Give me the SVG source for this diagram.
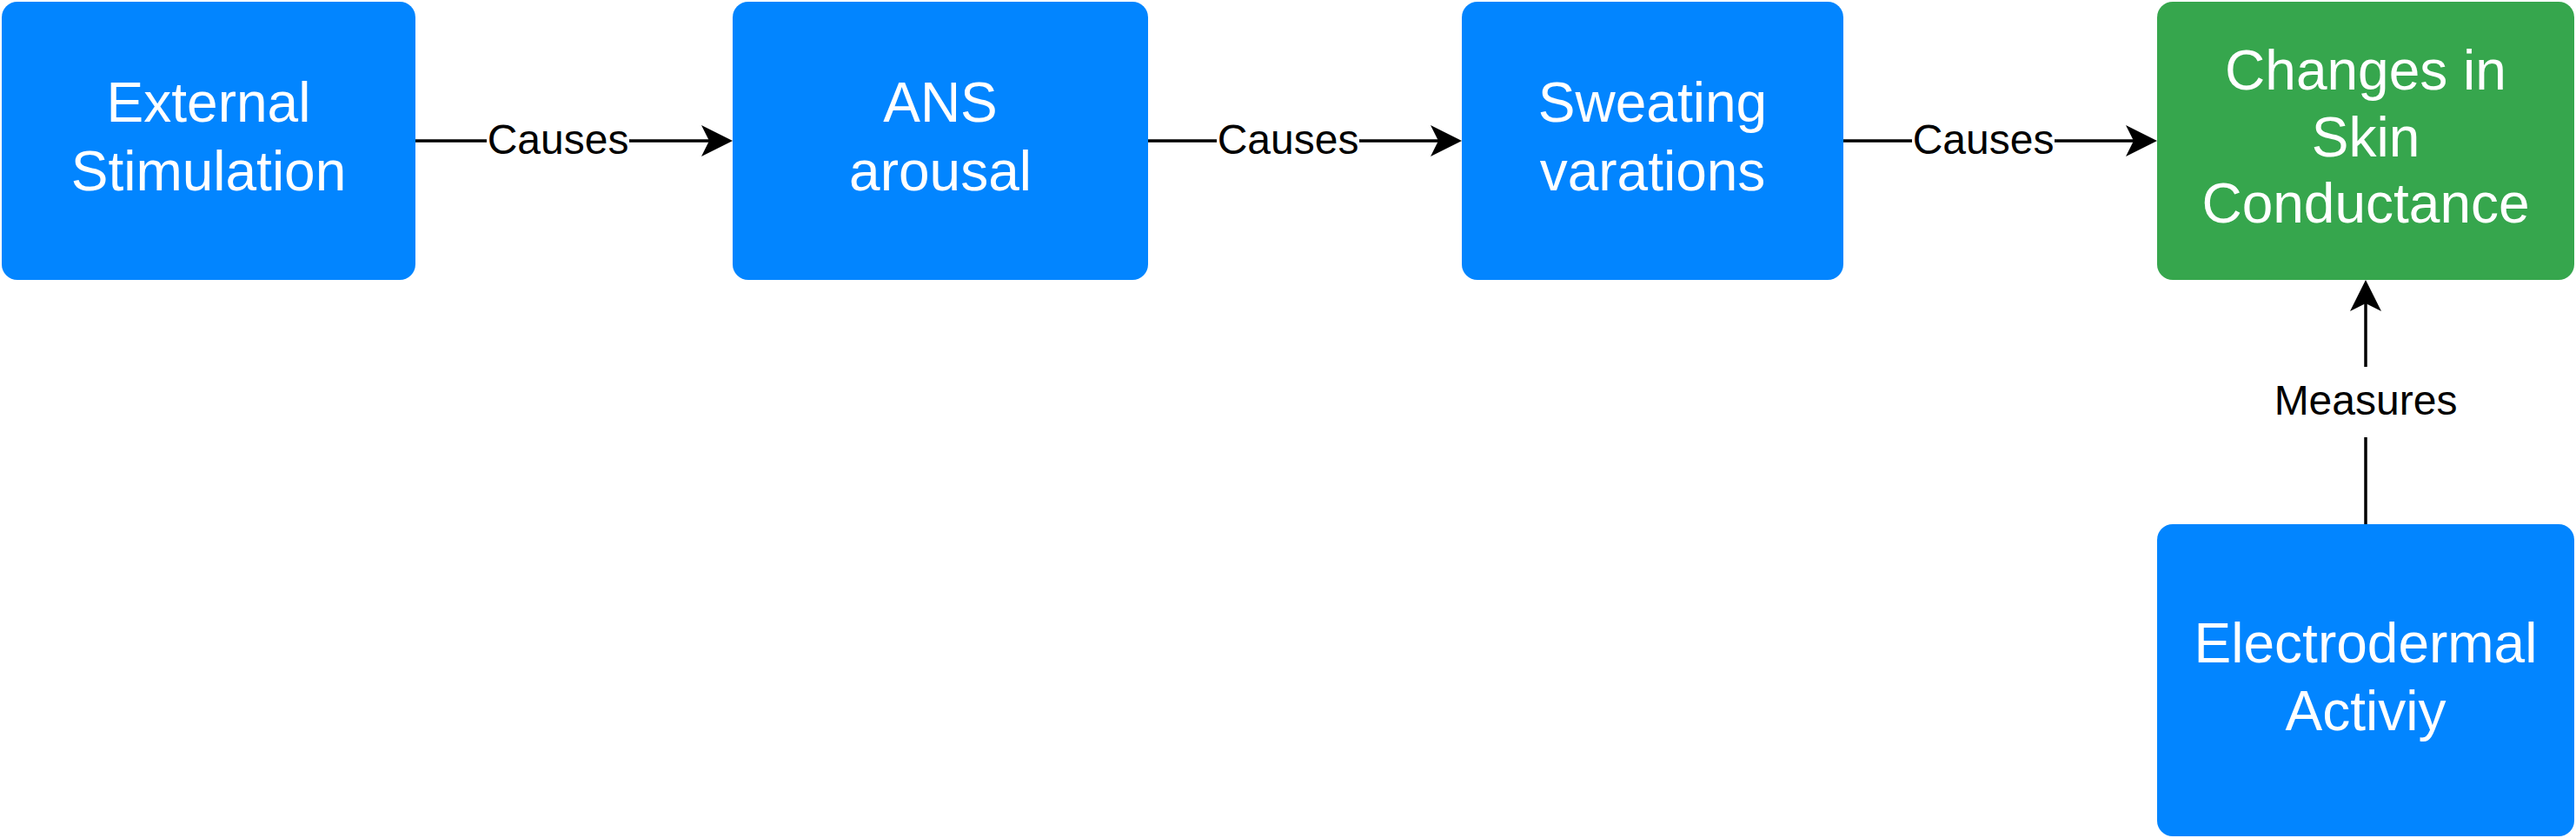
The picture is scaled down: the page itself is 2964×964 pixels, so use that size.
<svg xmlns="http://www.w3.org/2000/svg" width="2964" height="964" viewBox="0 0 2964 964">
  <style>
    .blue { fill: #0285FF; }
    .green { fill: #36A64D; }
    .nt { fill: #FFFFFF; font-family: "Liberation Sans", Arial, Helvetica, sans-serif; font-size: 64px; text-anchor: middle; }
    .edge { stroke: #000000; stroke-width: 3.5; fill: none; marker-end: url(#arrow); }
    .lbl { fill: #000000; font-family: "Liberation Sans", Arial, Helvetica, sans-serif; font-size: 48px; text-anchor: middle; }
    .lblbg { fill: #FFFFFF; }
  </style>
  <defs>
    <marker id="arrow" markerUnits="userSpaceOnUse" markerWidth="36" markerHeight="36" viewBox="0 0 36 36" refX="9" refY="18" orient="auto">
      <path d="M0,0 L36,18 L0,36 L9,18 z" fill="#000000"/>
    </marker>
  </defs>
  <rect width="2964" height="964" fill="#FFFFFF"/>

  <g id="connectors">
    <line class="edge" x1="478" y1="162" x2="816" y2="162"/>
    <rect class="lblbg" x="560" y="140" width="164" height="44"/>
    <text class="lbl" x="642" y="177">Causes</text>

    <line class="edge" x1="1321" y1="162" x2="1655" y2="162"/>
    <rect class="lblbg" x="1400" y="140" width="164" height="44"/>
    <text class="lbl" x="1482" y="177">Causes</text>

    <line class="edge" x1="2121" y1="162" x2="2455" y2="162"/>
    <rect class="lblbg" x="2200" y="140" width="164" height="44"/>
    <text class="lbl" x="2282" y="177">Causes</text>

    <line class="edge" x1="2722" y1="603" x2="2722" y2="349"/>
    <rect class="lblbg" x="2612" y="422" width="220" height="81"/>
    <text class="lbl" x="2722" y="477">Measures</text>
  </g>

  <g id="external-stimulation">
    <rect class="blue" x="2" y="2" width="476" height="320" rx="18" ry="18"/>
    <text class="nt" x="240" y="140">External</text>
    <text class="nt" x="240" y="219">Stimulation</text>
  </g>

  <g id="ans-arousal">
    <rect class="blue" x="843" y="2" width="478" height="320" rx="18" ry="18"/>
    <text class="nt" x="1082" y="140">ANS</text>
    <text class="nt" x="1082" y="219">arousal</text>
  </g>

  <g id="sweating-variations">
    <rect class="blue" x="1682" y="2" width="439" height="320" rx="18" ry="18"/>
    <text class="nt" x="1901.5" y="140">Sweating</text>
    <text class="nt" x="1901.5" y="219">varations</text>
  </g>

  <g id="skin-conductance">
    <rect class="green" x="2482" y="2" width="480" height="320" rx="18" ry="18"/>
    <text class="nt" x="2722" y="103">Changes in</text>
    <text class="nt" x="2722" y="180">Skin</text>
    <text class="nt" x="2722" y="256">Conductance</text>
  </g>

  <g id="electrodermal-activity">
    <rect class="blue" x="2482" y="603" width="480" height="359" rx="18" ry="18"/>
    <text class="nt" x="2722" y="762">Electrodermal</text>
    <text class="nt" x="2722" y="840">Activiy</text>
  </g>
</svg>
